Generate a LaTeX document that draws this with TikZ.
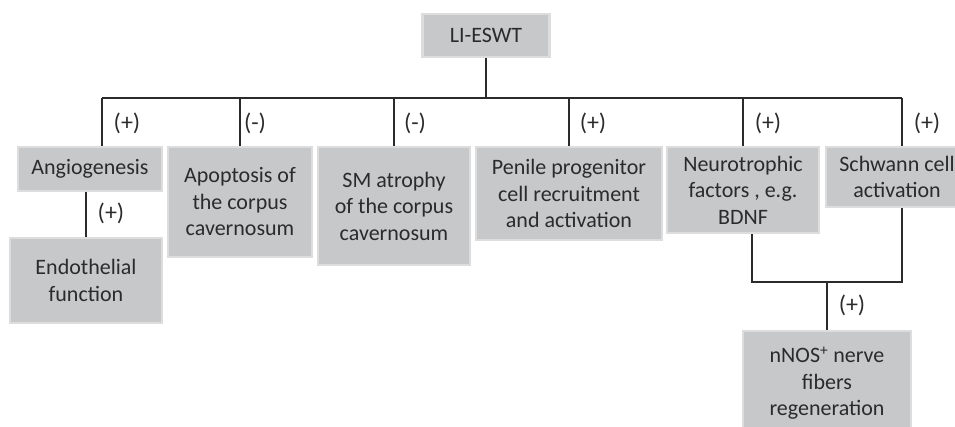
\documentclass[tikz,border=0pt]{standalone}
\usepackage{fontspec}
\setmainfont{Carlito}
\usetikzlibrary{positioning}
\definecolor{boxgray}{HTML}{C7C8CA}
\definecolor{boxedge}{HTML}{DDDDDD}
\definecolor{inkgray}{HTML}{2B2B2B}
\tikzset{
  box/.style={fill=boxgray, draw=boxedge, line width=2.5pt, align=center, inner sep=0pt, text=inkgray, font=\fontsize{22}{26.5}\selectfont},
  sign/.style={text=inkgray, font=\fontsize{24}{28}\selectfont},
  link/.style={draw=inkgray, line width=1.2pt}
}
\begin{document}
\begin{tikzpicture}[x=1pt,y=-1pt]
  \useasboundingbox (0,0) rectangle (955,427);
  \node[box, minimum width=127pt, minimum height=43pt] (eswt) at (486,35.5) {LI-ESWT};
  \node[box, minimum width=144pt, minimum height=44pt] (angio) at (90,169) {Angiogenesis};
  \node[box, minimum width=152pt, minimum height=85pt] (endo) at (86,280.5) {Endothelial\\function};
  \node[box, minimum width=144pt, minimum height=110pt] (apop) at (240,202) {Apoptosis of\\the corpus\\cavernosum};
  \node[box, minimum width=152pt, minimum height=118pt] (atrophy) at (394,206) {SM atrophy\\of the corpus\\cavernosum};
  \node[box, minimum width=186pt, minimum height=93pt] (progen) at (569,193.5) {Penile progenitor\\cell recruitment\\and activation};
  \node[box, minimum width=152pt, minimum height=86pt] (neuro) at (743,190) {Neurotrophic\\factors , e.g.\\BDNF};
  \node[box, minimum width=142pt, minimum height=60pt] (schwann) at (897,177) {Schwann cell\\activation};
  \node[box, minimum width=168pt, minimum height=104pt] (nnos) at (827,383) {nNOS\textsuperscript{+} nerve\\fibers\\regeneration};

  \coordinate (busL) at (102,98);
  \coordinate (busR) at (902,98);
  \coordinate (joinL) at (752,282);
  \coordinate (joinR) at (902,282);
  \coordinate (joinM) at (827,282);

  \draw[link] (eswt.south) -- (eswt.south |- busL);
  \draw[link] (busL) -- (busR);
  \draw[link] (busL) -- (busL |- angio.north);
  \draw[link] (apop.north |- busL) -- (apop.north);
  \draw[link] (atrophy.north |- busL) -- (atrophy.north);
  \draw[link] (progen.north |- busL) -- (progen.north);
  \draw[link] (neuro.north |- busL) -- (neuro.north);
  \draw[link] (busR) -- (busR |- schwann.north);
  \draw[link] (endo.north |- angio.south) -- (endo.north);
  \draw[link] (joinL |- neuro.south) -- (joinL) -- (joinR) -- (joinR |- schwann.south);
  \draw[link] (joinM) -- (nnos.north);

  \node[sign] (s1) at (127,123) {(+)};
  \node[sign] (s2) at (255,123) {(-)};
  \node[sign] (s3) at (415,123) {(-)};
  \node[sign] (s4) at (593,123) {(+)};
  \node[sign] (s5) at (768,123) {(+)};
  \node[sign] (s6) at (927,123) {(+)};
  \node[sign] (s7) at (111,213) {(+)};
  \node[sign] (s8) at (852,305) {(+)};
\end{tikzpicture}
\end{document}
